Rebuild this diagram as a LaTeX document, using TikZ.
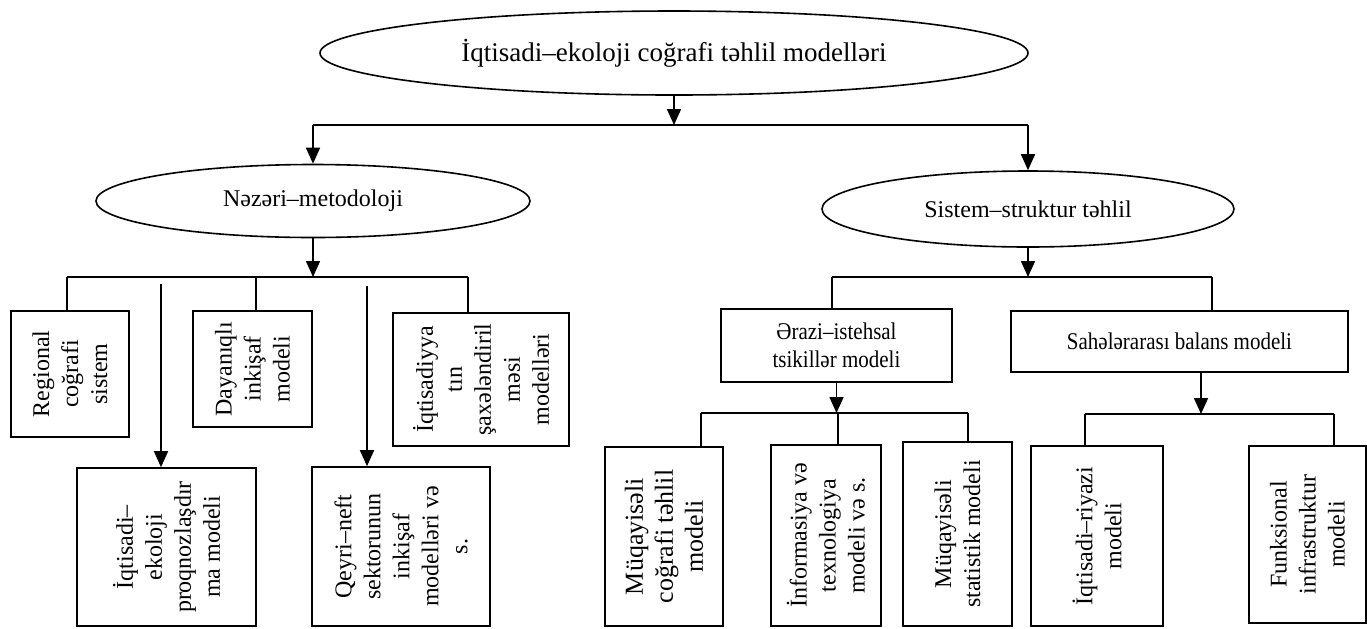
\documentclass[tikz,border=0pt]{standalone}
\usepackage{fontspec}
\setmainfont{Liberation Serif}
\newfontfamily\narrowserif{Liberation Serif}[FakeStretch=0.875]
\usetikzlibrary{arrows.meta, positioning, calc, shapes.geometric}

\begin{document}
\begin{tikzpicture}[x=0.5pt, y=-0.5pt, line width=0.8pt,
    oval/.style={ellipse, draw, inner sep=0pt, font=\fontsize{12}{14}\selectfont},
    vbox/.style={rectangle, draw, rotate=90, align=center, inner sep=2pt, font=\fontsize{12}{14.5}\selectfont},
    hbox/.style={rectangle, draw, align=center, inner sep=2pt, font=\narrowserif\fontsize{12}{14}\selectfont},
    arr/.style={-{Triangle[length=8pt, width=7pt]}}]
    \useasboundingbox (0,0) rectangle (1367,628);

    % ellipses
    \node[oval, minimum width=354pt, minimum height=42pt, font=\fontsize{13.5}{16}\selectfont] (top) at (674,53) {İqtisadi–ekoloji coğrafi təhlil modelləri};
    \node[oval, minimum width=217pt, minimum height=36.5pt] (nazari) at (313,201) {Nəzəri–metodoloji};
    \node[oval, minimum width=206pt, minimum height=38pt] (sistem) at (1028,209) {Sistem–struktur təhlil};

    % left branch
    \node[vbox, minimum width=63pt, minimum height=59pt] (regional) at (70,374) {Regional\\coğrafi\\sistem};
    \node[vbox, minimum width=58pt, minimum height=59.5pt] (dayaniqli) at (252.5,369) {Dayanıqlı\\inkişaf\\modeli};
    \node[vbox, minimum width=66.5pt, minimum height=88pt] (saxe) at (481,379.5) {İqtisadiyya\\tın\\şaxələndiril\\məsi\\modelləri};
    \node[vbox, minimum width=79pt, minimum height=89.5pt] (proqnoz) at (166.5,547) {İqtisadi–\\ekoloji\\proqnozlaşdır\\ma modeli};
    \node[vbox, minimum width=79.5pt, minimum height=89pt] (qeyri) at (401,546.5) {Qeyri–neft\\sektorunun\\inkişaf\\modelləri və\\s.};

    % right branch
    \node[hbox, minimum width=115.5pt, minimum height=36.5pt] (erazi) at (836.5,345.5) {Ərazi–istehsal\\tsikillər modeli};
    \node[hbox, minimum width=168.5pt, minimum height=30.5pt] (sahe) at (1179.5,341.5) {Sahələrarası balans modeli};
    \node[vbox, minimum width=89.5pt, minimum height=59pt, font=\fontsize{13}{15}\selectfont] (muqcog) at (664,536.5) {Müqayisəli\\coğrafi təhlil\\modeli};
    \node[vbox, minimum width=90.5pt, minimum height=55pt] (inform) at (826,535.5) {İnformasiya və\\texnologiya\\modeli və s.};
    \node[vbox, minimum width=92pt, minimum height=54.5pt] (muqstat) at (957.5,534) {Müqayisəli\\statistik modeli};
    \node[vbox, minimum width=90pt, minimum height=66pt] (riyazi) at (1097,536) {İqtisadi–riyazi\\modeli};
    \node[vbox, minimum width=88.5pt, minimum height=58.5pt] (funks) at (1307.5,534.5) {Funksional\\infrastruktur\\modeli};

    % top level
    \coordinate (bar0) at (0,125);
    \draw[arr] (top.south) -- (top.south |- bar0);
    \draw (nazari.north |- bar0) -- (sistem.north |- bar0);
    \draw[arr] (nazari.north |- bar0) -- (nazari.north);
    \draw[arr] (sistem.north |- bar0) -- (sistem.north);

    % under Nəzəri-metodoloji
    \coordinate (n1) at (67,277);
    \coordinate (n2) at (256,277);
    \coordinate (n3) at (468,277);
    \coordinate (n4) at (161,284);
    \coordinate (n5) at (367,286);
    \draw[arr] (nazari.south) -- (nazari.south |- n1);
    \draw (n1) -- (n3);
    \draw (n1) -- (n1 |- regional.east);
    \draw (n2) -- (n2 |- dayaniqli.east);
    \draw (n3) -- (n3 |- saxe.east);
    \draw[arr] (n4) -- (n4 |- proqnoz.east);
    \draw[arr] (n5) -- (n5 |- qeyri.east);

    % under Sistem-struktur
    \coordinate (s1) at (832,277);
    \coordinate (s2) at (1212,277);
    \draw[arr] (sistem.south) -- (sistem.south |- s1);
    \draw (s1) -- (s2);
    \draw (s1) -- (s1 |- erazi.north);
    \draw (s2) -- (s2 |- sahe.north);

    % under Ərazi-istehsal
    \coordinate (e1) at (701,413);
    \coordinate (e2) at (838,413);
    \coordinate (e3) at (968,413);
    \draw[arr] (erazi.south) -- (erazi.south |- e1);
    \draw (e1) -- (e3);
    \draw (e1) -- (e1 |- muqcog.east);
    \draw (e2) -- (e2 |- inform.east);
    \draw (e3) -- (e3 |- muqstat.east);

    % under Sahələrarası
    \coordinate (f0) at (1201,414);
    \coordinate (f1) at (1085,414);
    \coordinate (f2) at (1334,414);
    \draw[arr] (f0 |- sahe.south) -- (f0);
    \draw (f1) -- (f2);
    \draw (f1) -- (f1 |- riyazi.east);
    \draw (f2) -- (f2 |- funks.east);
\end{tikzpicture}
\end{document}
